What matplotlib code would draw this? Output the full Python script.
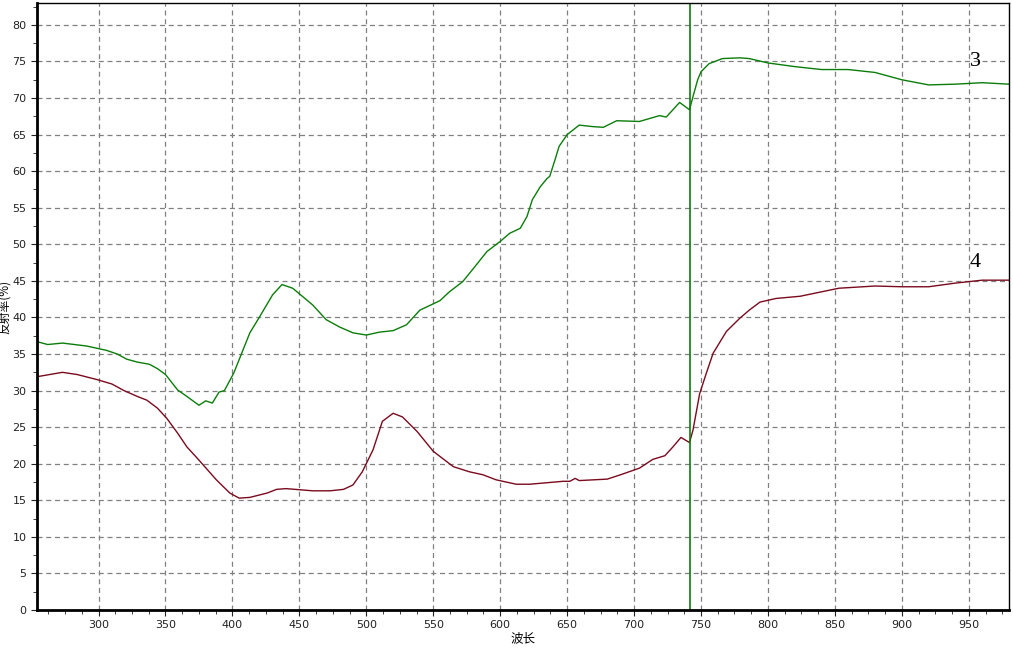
import matplotlib
matplotlib.use("Agg")
import matplotlib.pyplot as plt
from matplotlib.ticker import MultipleLocator

plt.rcParams["font.family"] = ["DejaVu Sans", "Noto Sans CJK SC"]

# ── Data ──────────────────────────────────────────────────────────────────────

wl_3 = [254, 262, 273, 291, 306, 314, 321, 329, 338, 344, 350, 359, 366, 375,
        380, 385, 390, 394, 401, 413, 420, 430, 437, 445, 460, 470, 480, 490,
        500, 510, 520, 530, 540, 555, 562, 572, 580, 590, 600, 607, 615, 620,
        624, 630, 635, 637, 641, 644, 650, 659, 669, 677, 687, 704, 719, 724,
        734, 741.4, 744, 747.5, 750, 756, 766, 779, 786, 800, 820, 840, 860,
        880, 900, 920, 940, 960, 980]
refl_3 = [36.7, 36.3, 36.5, 36.1, 35.5, 35.0, 34.3, 33.9, 33.6, 33.0, 32.2,
          30.1, 29.2, 28.0, 28.6, 28.3, 29.8, 30.0, 32.4, 37.9, 40.0, 43.1,
          44.5, 44.0, 41.7, 39.7, 38.7, 37.9, 37.6, 38.0, 38.2, 39.0, 41.0,
          42.3, 43.5, 44.9, 46.7, 49.0, 50.4, 51.5, 52.2, 53.8, 56.1, 57.9,
          59.0, 59.3, 61.6, 63.4, 65.0, 66.3, 66.1, 66.0, 66.9, 66.8, 67.6,
          67.4, 69.4, 68.4, 70.2, 72.5, 73.6, 74.7, 75.4, 75.5, 75.4, 74.8,
          74.3, 73.9, 73.9, 73.5, 72.5, 71.8, 71.9, 72.1, 71.9]

wl_4 = [254, 273, 284, 299, 310, 319, 329, 336, 344, 351, 359, 366, 374, 388,
        398, 405, 413, 426, 433, 440, 460, 473, 483, 490, 497, 505, 512, 520,
        527, 538, 550, 565, 577, 587, 597, 612, 622, 647, 652, 656, 659, 680,
        690, 704, 714, 723, 729, 735, 741.4, 744, 749, 754, 759, 769, 779,
        786, 794, 806, 824, 853, 880, 900, 920, 940, 960, 980]
refl_4 = [31.9, 32.5, 32.2, 31.5, 30.9, 30.0, 29.2, 28.7, 27.6, 26.2, 24.2,
          22.3, 20.7, 17.8, 16.0, 15.3, 15.4, 16.0, 16.5, 16.6, 16.3, 16.3,
          16.5, 17.1, 18.9, 21.9, 25.8, 26.9, 26.4, 24.4, 21.7, 19.6, 18.9,
          18.5, 17.8, 17.2, 17.2, 17.6, 17.6, 18.0, 17.7, 17.9, 18.5, 19.4,
          20.6, 21.1, 22.3, 23.6, 22.9, 24.6, 29.6, 32.4, 35.1, 38.1, 39.9,
          41.0, 42.1, 42.6, 42.9, 44.0, 44.3, 44.2, 44.2, 44.7, 45.1, 45.1]

cursor_wl = 741.5
curve_labels = ["3", "4"]
label_pos = [(951, 75.0), (951, 47.5)]

GREEN = "#0a7d0a"
RED = "#7a0a1e"

# ── Plot ──────────────────────────────────────────────────────────────────────

fig = plt.figure(figsize=(10.13, 6.48), dpi=100)
ax = fig.add_axes([0.0365, 0.0586, 0.9595, 0.9368])

ax.plot(wl_3, refl_3, color=GREEN, lw=1.0)
ax.plot(wl_4, refl_4, color=RED, lw=1.0)
ax.axvline(cursor_wl, color=GREEN, lw=1.2)

for txt, (x, y) in zip(curve_labels, label_pos):
    ax.text(x, y, txt, fontsize=16, family="Liberation Serif",
            ha="left", va="center")

ax.set_xlim(254, 980)
ax.set_ylim(0, 83)
ax.xaxis.set_major_locator(MultipleLocator(50))
ax.xaxis.set_minor_locator(MultipleLocator(12.5))
ax.yaxis.set_major_locator(MultipleLocator(5))
ax.yaxis.set_minor_locator(MultipleLocator(2.5))

ax.grid(True, which="major", color="#808080", ls=(0, (4, 3)), lw=0.9)
ax.tick_params(which="both", direction="out", labelsize=8, colors="#222222")
ax.tick_params(which="major", length=4)
ax.tick_params(which="minor", length=3)

for side in ("left", "bottom"):
    ax.spines[side].set_linewidth(2.0)
for side in ("top", "right"):
    ax.spines[side].set_linewidth(1.0)

ax.set_xlabel("波长", fontsize=9, family=["Noto Sans CJK SC", "DejaVu Sans"],
              labelpad=1)
ax.set_ylabel("反射率(%)", fontsize=8.5,
              family=["Noto Sans CJK SC", "DejaVu Sans"], labelpad=1)

fig.savefig("out.png", dpi=100)
plt.close(fig)
